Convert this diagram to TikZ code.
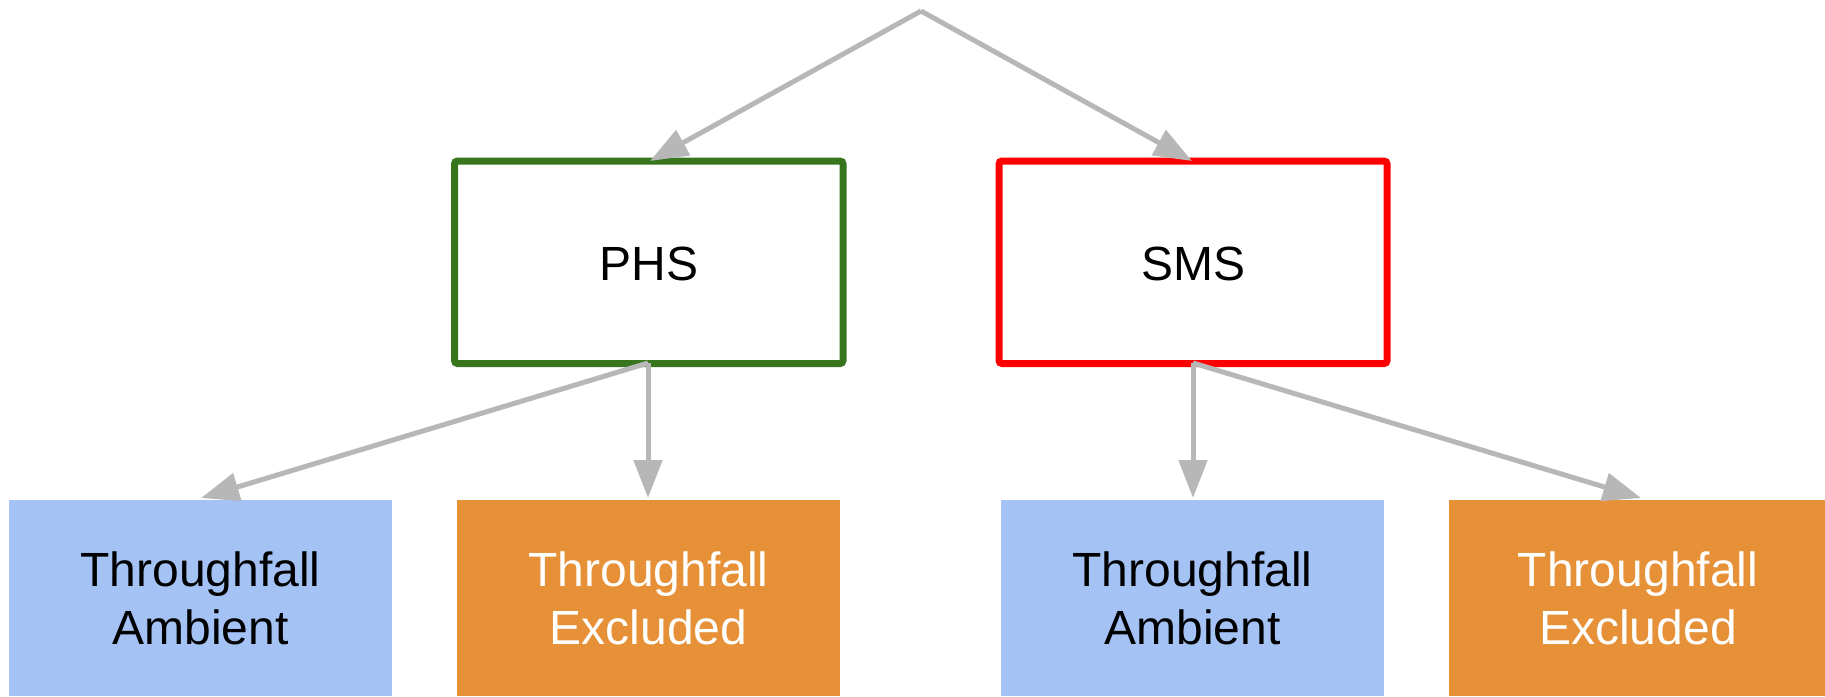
\documentclass[tikz,border=0pt]{standalone}
\usepackage{fontspec}
\setmainfont{Liberation Sans}
\usetikzlibrary{arrows.meta}
\definecolor{boxgreen}{HTML}{38761D}
\definecolor{boxred}{HTML}{FF0000}
\definecolor{ambientblue}{HTML}{A4C2F4}
\definecolor{excludedorange}{HTML}{E69138}
\definecolor{linkgray}{HTML}{B7B7B7}
\tikzset{
  site/.style={draw, line width=7pt, rounded corners=3pt, fill=white},
  link/.style={draw=linkgray, line width=5pt,
    -{Triangle[length=38pt,width=28pt,fill=linkgray]}},
  lbl/.style={font=\fontsize{48}{58}\selectfont, align=center},
}
\begin{document}
\begin{tikzpicture}[x=1pt,y=-1pt]
\useasboundingbox (0,0) rectangle (1825,696);

% site boxes
\draw[site, draw=boxgreen] (454.5,161) rectangle (843,363.5);
\draw[site, draw=boxred] (999,161) rectangle (1387,363.5);
\node[lbl] (phs) at (648.75,264) {PHS};
\node[lbl] (sms) at (1193,264) {SMS};

% treatment boxes
\fill[ambientblue] (9,500) rectangle (392,696);
\fill[excludedorange] (457,500) rectangle (840,696);
\fill[ambientblue] (1001,500) rectangle (1384,696);
\fill[excludedorange] (1449,500) rectangle (1825,696);
\node[lbl] (a1) at (200.5,598) {Throughfall\\Ambient};
\node[lbl, text=white] (e1) at (648.5,598) {Throughfall\\Excluded};
\node[lbl] (a2) at (1192.5,598) {Throughfall\\Ambient};
\node[lbl, text=white] (e2) at (1638,598) {Throughfall\\Excluded};

% connector anchors
\coordinate (top) at (921,11);
\coordinate (phsin) at (650,161);
\coordinate (smsin) at (1192,161);
\coordinate (phsout) at (648,363);
\coordinate (smsout) at (1193,363);
\coordinate (a1in) at (201,498);
\coordinate (e1in) at (648,498);
\coordinate (a2in) at (1193,498);
\coordinate (e2in) at (1641,498);

% connectors
\draw[link, line join=round] (top) -- (phsin);
\draw[link, line join=round] (top) -- (smsin);
\draw[link] (phsout) -- (a1in);
\draw[link] (phsout) -- (e1in);
\draw[link] (smsout) -- (a2in);
\draw[link] (smsout) -- (e2in);
\end{tikzpicture}
\end{document}
